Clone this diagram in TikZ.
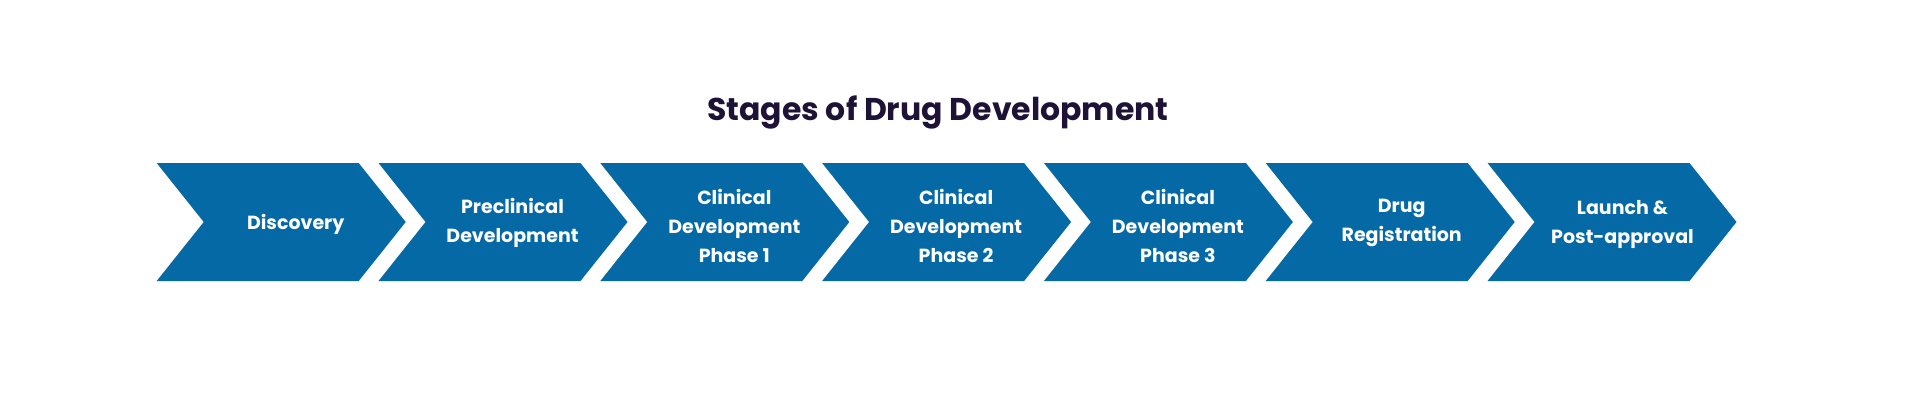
\documentclass[tikz,border=0pt]{standalone}
\usepackage{fontspec}
\setmainfont{Poppins}
\definecolor{chev}{HTML}{0569A6}
\definecolor{ttl}{HTML}{1E1236}
\begin{document}
\begin{tikzpicture}[x=1pt,y=-1pt,
  chevron/.style={fill=chev, draw=none},
  lbl/.style={text=white, font=\fontsize{19}{29}\selectfont\bfseries, align=center, inner sep=0pt},
  ttlstyle/.style={text=ttl, font=\fontsize{31.5}{36}\selectfont\bfseries, inner sep=0pt}]
\useasboundingbox (0,0) rectangle (1920,400);
\node[ttlstyle, anchor=base] (title) at (938,120.5) {Stages of Drug Development};
\foreach \i/\t/\dx/\ty in {
  0/{Discovery}/139/224.3,
  1/{Preclinical\\Development}/134/222.5,
  2/{Clinical\\Development\\Phase 1}/134/225.9,
  3/{Clinical\\Development\\Phase 2}/134/225.9,
  4/{Clinical\\Development\\Phase 3}/134/225.9,
  5/{Drug\\Registration}/136/222.5,
  6/{Launch \&\\Post-approval}/135/224}{
  \pgfmathsetmacro{\L}{156.7+\i*221.8}
  \fill[chevron] (\L,163) -- ({\L+202},163) -- ({\L+249},222) -- ({\L+202},281) -- (\L,281) -- ({\L+47},222) -- cycle;
  \node[lbl] (s\i) at ({\L+\dx},\ty) {\t};
}
\end{tikzpicture}
\end{document}
